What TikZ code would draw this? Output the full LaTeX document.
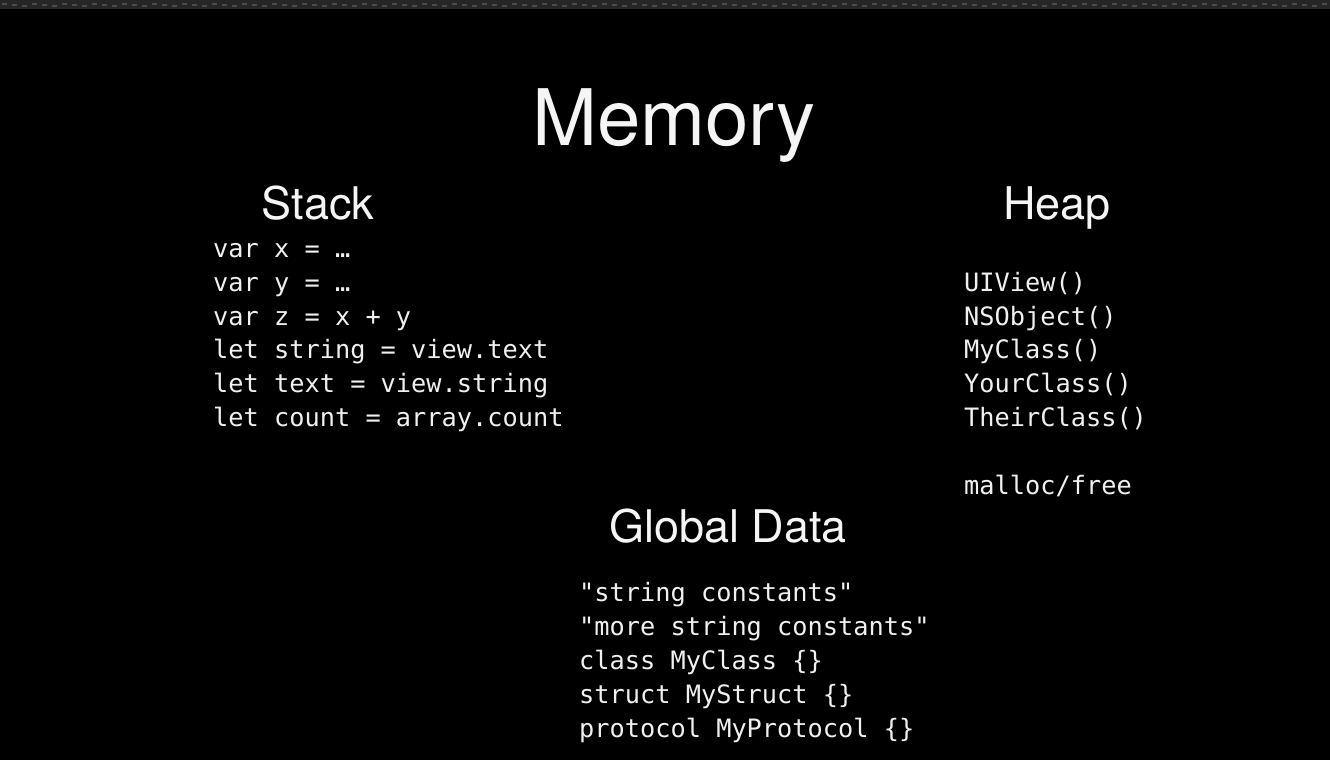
\documentclass[tikz,border=0pt]{standalone}
\usepackage{fontspec}
\setmonofont{DejaVu Sans Mono}
\newfontfamily\titlefont{TeX Gyre Heros}
\begin{document}
\begin{tikzpicture}[x=1pt,y=-1pt,
  code/.style={anchor=base west,inner sep=0pt,text=white!94!black,font=\ttfamily\fontsize{25.3}{30}\selectfont},
  head/.style={anchor=base,inner sep=0pt,text=white!96!black,font=\titlefont\fontsize{45}{54}\selectfont},
  bigtitle/.style={anchor=base,inner sep=0pt,text=white!96!black,font=\titlefont\fontsize{78}{90}\selectfont}]
\fill[black] (0,0) rectangle (1330,760);
\useasboundingbox (0,0) rectangle (1330,760);
\fill[black!85!white] (0,0) rectangle (1330,9);
\foreach \i in {0,...,132}{
  \pgfmathsetmacro{\yy}{3+mod(\i,3)}
  \fill[black!70!white] ({\i*10+2},\yy) rectangle ({\i*10+7},{\yy+2});
}
\node[bigtitle] (title) at (674,145) {Memory};
\node[head] (stack) at (318,219) {Stack};
\node[head] (heap) at (1057,219) {Heap};
\node[head] (global) at (728,542) {Global Data};
% Stack
\node[code] (s1) at (213,257) {var x = …};
\node[code] (s2) at (213,291) {var y = …};
\node[code] (s3) at (213,325) {var z = x + y};
\node[code] (s4) at (213,358) {let string = view.text};
\node[code] (s5) at (213,392) {let text = view.string};
\node[code] (s6) at (213,426) {let count = array.count};
% Heap
\node[code] (h1) at (964,291) {UIView()};
\node[code] (h2) at (964,325) {NSObject()};
\node[code] (h3) at (964,358) {MyClass()};
\node[code] (h4) at (964,392) {YourClass()};
\node[code] (h5) at (964,426) {TheirClass()};
\node[code] (h6) at (964,494) {malloc/free};
% Global
\node[code] (g1) at (579,601) {"string constants"};
\node[code] (g2) at (579,635) {"more string constants"};
\node[code] (g3) at (579,669) {class MyClass \{\}};
\node[code] (g4) at (579,703) {struct MyStruct \{\}};
\node[code] (g5) at (579,737) {protocol MyProtocol \{\}};
\end{tikzpicture}
\end{document}
